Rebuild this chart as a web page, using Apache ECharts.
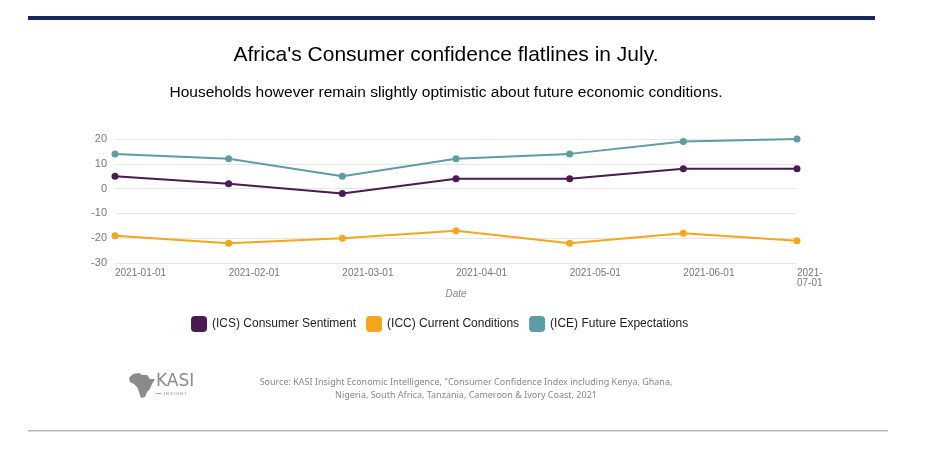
<!DOCTYPE html>
<html>
<head>
<meta charset="utf-8">
<script src="https://cdn.jsdelivr.net/npm/echarts@6/dist/echarts.min.js"></script>
<style>
html,body{margin:0;padding:0;background:#fff;}
#chart{width:925px;height:456px;}
</style>
</head>
<body>
<div id="chart"></div>
<script>
const categories = ['2021-01-01','2021-02-01','2021-03-01','2021-04-01','2021-05-01','2021-06-01','2021-07-01'];
const icsValues = [5, 2, -2, 4, 4, 8, 8];
const iccValues = [-19, -22, -20, -17, -22, -18, -21];
const iceValues = [14, 12, 5, 12, 14, 19, 20];
const seriesNames = ['(ICS) Consumer Sentiment', '(ICC) Current Conditions', '(ICE) Future Expectations'];
const yTicks = [-30, -20, -10, 0, 10, 20];

const colors = ['#4a1a50', '#f7a51c', '#5e9ca5'];
const chart = echarts.init(document.getElementById('chart'));
const font = '"Liberation Sans", Arial, Helvetica, sans-serif';

function mk(name, data, color) {
  return {
    name: name, type: 'line', data: data,
    symbol: 'circle', symbolSize: 7,
    lineStyle: {color: color, width: 2},
    itemStyle: {color: color},
    emphasis: {disabled: true}
  };
}

chart.setOption({
  animation: false,
  backgroundColor: '#fff',
  textStyle: {fontFamily: font},
  title: [
    {text: "Africa's Consumer confidence flatlines in July.", left: 441, textAlign: 'center', top: 40,
     textStyle: {fontFamily: font, fontSize: 21, fontWeight: 'normal', color: '#000'}},
    {text: 'Households however remain slightly optimistic about future economic conditions.', left: 441, textAlign: 'center', top: 80,
     textStyle: {fontFamily: font, fontSize: 15.5, fontWeight: 'normal', color: '#000'}}
  ],
  grid: {left: 115, right: 128, top: 139, bottom: 193, containLabel: false},
  legend: {
    top: 311, left: 186, itemWidth: 16, itemHeight: 16, itemGap: 10,
    icon: 'roundRect',
    data: seriesNames.map((n, i) => ({name: n, itemStyle: {color: colors[i]}})),
    textStyle: {fontFamily: font, fontSize: 12, color: '#222'}
  },
  xAxis: {
    type: 'category', data: categories, boundaryGap: false,
    name: 'Date', nameLocation: 'middle', nameGap: 25,
    nameTextStyle: {fontFamily: font, fontSize: 10, fontStyle: 'italic', color: '#888'},
    axisLine: {show: false}, axisTick: {show: false},
    axisLabel: {
      align: 'left', color: '#777', fontSize: 10, margin: 5, interval: 0,
      formatter: (v, i) => i === categories.length - 1 ? v.slice(0,5) + '\n' + v.slice(5) : v
    },
    splitLine: {show: false}
  },
  yAxis: {
    type: 'value', min: yTicks[0], max: yTicks[yTicks.length-1], interval: 10,
    axisLine: {show: false}, axisTick: {show: false},
    axisLabel: {color: '#777', fontSize: 11, margin: 8},
    splitLine: {lineStyle: {color: '#e6e6e6', width: 1}}
  },
  series: [
    mk(seriesNames[0], icsValues, colors[0]),
    mk(seriesNames[1], iccValues, colors[1]),
    mk(seriesNames[2], iceValues, colors[2])
  ],
  graphic: [
    {type: 'rect', shape: {x: 28, y: 16, width: 847, height: 4}, style: {fill: '#16275e'}},
    {type: 'rect', shape: {x: 28, y: 430, width: 860, height: 1.5}, style: {fill: '#b8b8b8'}},
    {type: 'polygon', shape: {points: [[129,378],[133,374],[139,373],[142,375],[147,375],[150,379],[155,379],[152,384],[150,389],[147,392],[145,397],[141,398],[139,392],[137,387],[134,384],[130,382]]},
     style: {fill: '#8a8a8a'}},
    {type: 'text', style: {x: 156, y: 373, text: 'KASI', font: '17px "DejaVu Sans", Arial', fill: '#8a8a8a'}},
    {type: 'text', style: {x: 156, y: 392, text: '\u25AA\u25AA\u25AA\u25AA  I N S I G H T', font: '4px "Liberation Sans", Arial', fill: '#888'}},
    {type: 'text', style: {x: 466, y: 376, text: 'Source: KASI Insight Economic Intelligence, "Consumer Confidence Index including Kenya, Ghana,\nNigeria, South Africa, Tanzania, Cameroon & Ivory Coast, 2021',
     font: '9px "Noto Sans", Lato, sans-serif', fill: '#888', align: 'center', lineHeight: 13}}
  ]
});
</script>
</body>
</html>
